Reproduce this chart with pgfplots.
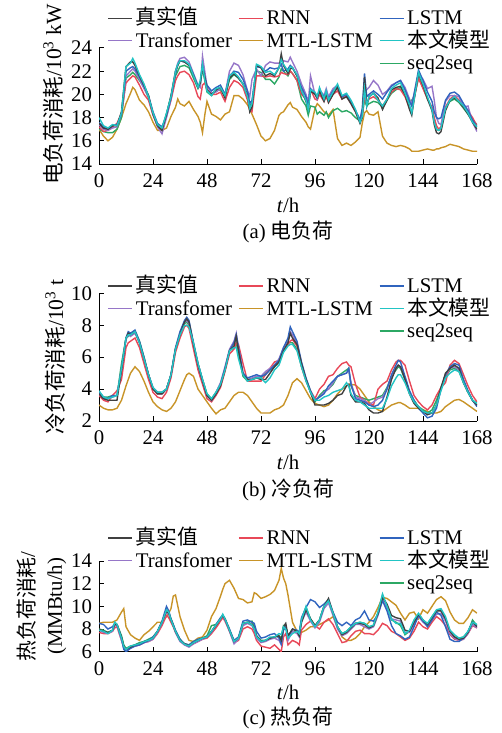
\documentclass[border=0pt]{standalone}
\usepackage{fontspec}
\setmainfont{Liberation Serif}
\newfontfamily\cjk{Noto Sans CJK SC}
\usepackage{pgfplots}
\usepackage{pgfplotstable}
\pgfplotsset{compat=1.18}

\definecolor{cT}{RGB}{64,64,64}
\definecolor{cR}{RGB}{232,72,88}
\definecolor{cL}{RGB}{48,100,190}
\definecolor{cP}{RGB}{150,118,200}
\definecolor{cM}{RGB}{200,148,40}
\definecolor{cO}{RGB}{34,196,196}
\definecolor{cG}{RGB}{44,168,100}

% columns: t  true  ours  LSTM  RNN  Transformer  seq2seq  MTL-LSTM
\pgfplotstableread{
t T O L R P G M
0 17.5 18.0 17.6 17.2 17.4 17.0 17.0
2 17.1 17.3 17.2 16.8 17.0 16.8 16.4
4 17.0 17.1 17.0 16.9 16.9 16.7 16.0
6 17.3 17.4 17.3 17.2 17.1 16.7 16.3
8 17.3 17.3 17.4 17.5 17.2 17.0 17.0
10 18.5 18.4 18.3 18.4 18.3 18.0 18.0
12 22.4 22.4 22.0 21.0 21.6 21.4 19.2
14 22.8 22.7 22.3 21.4 22.0 21.7 20.1
15 22.8 23.1 22.4 21.6 22.2 21.9 20.6
16 22.5 22.7 22.2 21.5 22.0 21.7 20.4
18 21.6 21.7 21.5 20.8 21.3 21.2 19.5
20 20.8 20.9 20.7 20.0 20.5 20.6 19.1
22 19.9 19.8 19.9 19.5 19.8 19.7 18.5
24 18.3 18.4 18.5 18.2 18.3 18.3 17.6
26 17.3 17.4 17.5 17.3 17.2 17.3 16.9
28 16.9 17.1 17.2 17.1 16.6 17.0 16.9
30 18.3 18.4 18.2 18.1 18.0 18.3 17.1
32 19.9 19.8 19.7 19.5 19.6 19.8 18.1
34 22.0 22.0 21.8 21.2 22.0 21.6 18.9
35 22.5 22.6 22.5 21.6 22.7 22.0 19.6
36 22.9 22.9 22.9 21.9 23.1 22.4 19.2
38 22.8 22.9 22.8 22.0 23.2 22.5 19.0
40 22.5 22.6 22.6 21.7 22.8 22.3 19.4
42 21.6 21.6 21.7 21.0 21.8 21.4 18.7
44 20.6 20.6 20.7 19.8 20.8 20.5 18.1
45 21.0 21.2 21.0 19.6 20.6 20.8 17.6
46 22.4 22.6 22.5 20.8 23.3 22.2 16.7
47 21.5 21.3 21.5 21.0 22.0 21.2 18.2
48 20.4 20.3 20.8 20.4 20.7 20.2 19.4
50 20.0 19.9 20.3 20.0 20.1 19.9 18.3
52 20.4 20.5 20.6 20.0 20.2 20.3 18.1
54 20.6 20.6 20.8 20.2 20.5 20.4 17.8
56 19.7 19.9 20.0 19.4 20.0 19.8 18.3
58 21.4 21.6 21.6 20.6 22.0 21.3 18.5
60 21.8 21.9 22.0 21.2 22.7 21.7 19.9
62 21.4 21.5 21.9 21.0 22.5 21.4 19.9
64 20.9 20.9 21.3 20.6 21.7 20.9 19.6
66 19.9 19.8 20.3 19.5 20.3 19.9 19.1
67 18.5 18.8 19.2 18.6 19.8 19.0 18.7
68 18.9 19.2 19.5 18.5 21.3 19.2 18.3
70 22.5 22.6 22.4 21.6 22.2 22.0 17.4
72 22.3 22.4 22.3 21.6 21.6 21.9 16.4
74 21.6 21.9 22.0 21.5 22.5 21.3 16.0
76 21.8 22.0 22.3 21.6 22.8 21.3 16.2
78 21.6 21.7 22.2 21.5 22.7 20.9 16.9
80 22.3 22.3 22.3 21.6 22.7 21.5 18.2
81 23.5 23.0 22.6 21.9 22.5 22.2 18.4
82 22.5 22.6 22.0 21.8 22.9 22.0 18.5
84 21.8 22.0 22.2 21.7 22.8 21.6 19.1
85 22.2 22.4 22.5 22.0 23.2 22.0 19.3
86 22.3 22.3 22.3 21.8 22.8 21.8 18.9
88 21.6 21.7 21.6 21.2 22.0 21.2 18.7
90 20.3 20.3 20.6 20.0 20.9 19.6 18.1
92 19.4 19.5 19.8 19.6 20.0 19.0 17.6
93 18.7 18.7 19.0 18.9 19.3 18.2 17.2
94 20.3 20.4 20.5 20.4 21.6 19.0 17.0
96 20.0 20.2 20.1 19.6 20.0 18.9 18.8
97 19.7 19.8 19.9 19.5 19.6 18.3 19.2
98 20.3 20.6 20.3 20.0 20.4 18.5 19.0
100 19.4 19.6 19.8 19.4 19.9 18.2 18.5
101 20.1 20.3 20.2 19.8 20.5 18.5 18.4
102 19.3 19.5 19.6 19.3 19.8 18.0 18.2
104 20.0 20.2 20.3 20.0 20.5 18.6 18.7
106 20.6 20.9 20.7 20.3 20.8 18.8 16.2
108 19.6 19.9 19.8 19.6 19.8 18.5 15.6
110 19.8 20.1 20.0 19.9 20.0 18.6 15.8
112 19.2 19.5 19.3 19.2 19.4 18.4 15.6
114 18.5 18.7 18.6 18.5 18.6 18.0 15.9
116 17.5 17.6 17.8 17.6 17.8 17.7 16.3
117 18.0 18.1 18.8 18.2 18.5 18.2 17.5
118 21.5 20.5 21.8 19.8 20.3 19.5 18.4
119 19.0 19.0 19.8 19.2 20.4 19.0 18.6
120 19.8 19.8 20.0 19.6 20.6 19.2 18.3
122 20.1 20.1 20.3 19.8 21.2 19.4 18.2
124 19.7 19.5 20.0 19.5 20.8 19.3 18.5
126 18.7 19.0 19.6 19.0 20.0 18.9 16.4
128 19.5 19.6 20.2 19.6 20.3 19.5 15.8
130 20.4 20.5 20.7 20.2 20.8 20.1 15.6
132 20.6 20.8 21.0 20.5 21.0 20.4 15.5
134 20.7 21.0 21.2 20.4 21.2 20.6 15.6
136 20.0 20.1 20.4 19.8 20.6 20.0 15.5
138 18.7 19.1 19.4 18.8 19.6 19.3 15.3
139 18.2 18.4 19.0 18.5 19.2 19.5 15.1
140 19.5 19.5 20.0 19.6 20.0 19.8 15.1
142 21.8 21.9 22.1 21.4 21.8 21.4 15.1
144 20.8 20.9 21.2 20.5 21.3 20.6 15.2
146 19.6 19.8 20.2 19.6 20.5 19.6 15.3
148 18.6 18.7 19.4 18.9 20.7 18.8 15.2
149 17.4 17.6 18.5 18.0 19.5 17.8 15.2
150 16.7 17.0 18.0 17.3 18.0 17.0 15.3
151 16.6 16.9 17.9 17.0 17.5 16.9 15.3
152 16.8 17.1 18.0 17.2 17.4 17.1 15.4
154 18.6 18.8 19.5 18.9 19.4 18.9 15.5
156 19.5 19.5 20.1 19.6 19.9 19.4 15.7
158 19.7 19.8 20.2 19.9 19.9 19.6 15.6
160 19.4 19.4 19.9 19.5 19.8 19.3 15.5
162 18.9 19.0 19.2 18.9 18.9 18.8 15.3
164 18.3 18.4 18.6 18.6 19.0 18.3 15.2
166 17.6 17.6 17.8 18.0 17.6 17.8 15.1
168 17.0 17.2 17.2 17.3 16.8 17.4 15.1
}\tabA

\pgfplotstableread{
t T O L R P G M
0 3.7 3.9 3.8 3.6 3.7 3.8 3.0
2 3.4 3.5 3.5 3.3 3.4 3.5 2.8
4 3.3 3.4 3.4 3.2 3.4 3.5 2.7
6 3.3 3.5 3.6 3.6 3.5 3.6 2.7
8 3.3 3.6 3.6 3.9 3.6 3.6 2.8
10 5.2 5.3 5.2 4.6 5.3 5.6 3.3
12 7.2 7.2 7.2 6.6 7.1 7.2 4.2
13 7.5 7.4 7.6 6.9 7.4 7.3 4.6
14 7.4 7.4 7.5 7.0 7.3 7.5 5.0
16 7.6 7.6 7.7 7.2 7.5 7.6 5.4
18 6.9 6.9 7.0 6.6 6.9 7.0 5.1
20 5.9 5.9 6.0 5.6 5.9 6.0 4.5
22 4.9 4.9 4.9 4.6 4.9 4.9 3.8
24 4.0 4.1 4.1 3.8 4.0 4.0 3.2
26 3.7 3.8 3.8 3.5 3.7 3.8 2.9
28 3.7 3.8 3.8 3.4 3.7 3.8 2.7
30 4.0 4.0 4.0 3.8 4.0 4.0 2.6
32 4.9 4.9 4.9 4.7 4.9 4.9 2.8
34 6.5 6.5 6.6 6.3 6.5 6.5 3.2
36 7.4 7.4 7.6 7.2 7.5 7.4 3.9
38 8.2 8.0 8.3 7.9 8.2 8.1 4.6
39 8.4 8.0 8.5 8.0 8.3 8.2 4.9
40 8.2 7.9 8.3 7.8 8.1 8.0 5.0
42 6.8 6.9 6.9 6.5 6.8 6.8 4.8
44 5.5 5.6 5.6 5.2 5.5 5.6 4.0
46 4.5 4.6 4.6 4.3 4.5 4.6 3.6
48 3.6 3.7 3.6 3.4 3.6 3.7 3.2
50 3.3 3.4 3.3 3.2 3.3 3.4 2.8
52 3.7 3.8 3.7 3.6 3.8 3.8 2.45
54 4.2 4.3 4.3 4.1 4.4 4.3 2.7
56 5.2 5.2 5.3 5.1 5.4 5.2 2.8
58 6.4 6.4 6.4 6.2 6.5 6.4 3.2
60 6.7 6.6 6.9 6.5 7.0 6.6 3.6
61 7.3 6.6 7.4 6.9 7.5 6.9 3.7
62 6.4 5.9 6.6 6.8 6.6 6.2 3.8
64 4.9 4.9 5.0 5.6 5.0 4.8 3.8
66 4.6 4.5 4.7 4.5 4.6 4.5 3.6
68 4.6 4.6 4.8 4.5 4.7 4.6 3.2
70 4.7 4.7 4.9 4.5 4.8 4.7 2.8
72 4.6 4.7 4.8 4.5 4.8 4.7 2.5
74 4.6 4.4 4.9 4.9 5.1 5.0 2.5
76 5.0 4.7 5.2 5.3 5.3 5.2 2.5
78 5.4 5.2 5.5 5.7 5.5 5.4 2.7
80 5.7 5.5 5.8 5.8 5.9 5.7 2.8
82 6.4 6.3 6.6 6.4 6.6 6.4 3.0
84 6.9 6.7 7.2 6.8 7.0 6.9 3.6
85 7.5 6.8 7.9 7.0 7.6 6.9 4.0
86 7.2 6.8 7.6 7.1 7.4 6.9 4.4
88 6.8 6.4 7.0 6.7 6.9 6.5 4.65
90 5.6 5.4 5.7 5.4 5.6 5.4 4.4
92 4.6 4.5 4.7 4.5 4.6 4.6 3.9
94 3.8 3.8 3.9 3.9 3.8 3.8 3.4
96 3.0 3.3 3.3 3.4 3.3 3.2 3.1
98 3.0 3.3 3.5 4.0 3.5 3.6 3.0
100 3.0 3.5 3.7 4.3 3.8 3.9 2.9
102 3.1 3.6 4.2 4.8 4.0 4.0 3.0
104 3.3 3.8 4.5 4.9 4.4 4.3 3.3
106 3.6 3.9 4.8 5.3 4.8 4.8 3.7
108 3.7 4.0 4.9 5.6 4.9 5.0 4.0
110 4.2 4.4 5.0 5.7 5.0 5.2 4.2
111 4.3 4.2 5.3 5.5 5.2 5.3 4.3
112 3.6 3.7 4.3 5.4 4.4 4.2 4.3
114 3.2 3.3 3.4 4.3 3.5 3.6 4.25
116 3.2 3.2 3.3 3.5 3.4 3.5 4.0
118 3.1 3.0 3.2 3.3 3.3 3.4 3.6
120 2.7 2.8 3.0 3.1 3.0 3.3 3.2
122 2.5 2.8 2.9 3.0 3.2 3.4 2.9
124 2.5 2.8 3.0 4.0 3.4 3.5 2.7
126 2.6 2.8 3.3 4.3 3.5 3.6 2.6
128 3.5 3.4 4.0 4.5 4.0 4.1 2.8
130 4.6 4.2 4.9 5.2 4.8 4.8 3.0
132 5.3 4.7 5.5 5.7 5.3 5.2 3.1
133 5.5 4.9 5.8 5.8 5.5 5.4 3.15
134 5.4 4.9 5.7 5.8 5.4 5.3 3.15
136 4.6 4.4 4.8 5.5 4.7 4.6 3.0
138 3.7 3.7 3.9 4.5 3.8 3.8 2.8
140 3.1 3.2 3.3 3.6 3.2 3.3 2.8
142 2.8 2.9 2.8 3.2 2.9 2.9 2.8
144 2.6 2.6 2.5 2.9 2.6 2.7 2.7
146 2.4 2.5 2.2 2.7 2.4 2.5 2.6
148 2.5 2.5 2.3 3.0 2.5 2.7 2.5
150 3.0 3.0 2.8 3.6 3.0 3.3 2.5
152 4.1 3.9 4.0 4.1 4.0 4.1 2.6
154 5.0 4.7 4.9 4.4 4.9 4.8 2.9
156 5.3 5.0 5.4 5.5 5.3 5.2 3.1
158 5.5 5.2 5.6 5.8 5.4 5.3 3.3
160 5.3 5.1 5.5 5.6 5.2 5.1 3.35
162 4.4 4.4 4.6 4.9 4.4 4.4 3.2
164 3.8 3.8 3.9 4.2 3.8 3.8 3.0
166 3.3 3.3 3.3 3.6 3.3 3.3 2.8
168 3.0 3.1 2.9 3.2 3.0 3.1 2.6
}\tabB

\pgfplotstableread{
t T O L R P G M
0 8.0 7.9 8.5 7.7 7.9 8.0 8.5
2 7.8 7.8 8.4 7.6 7.7 7.9 8.6
4 7.7 7.6 8.0 7.6 7.6 7.7 8.6
6 7.9 7.9 8.2 7.8 7.8 7.9 8.6
7 8.4 8.6 8.5 8.1 8.3 8.4 8.7
8 8.4 8.4 8.4 8.2 8.3 8.4 8.8
10 7.3 7.2 7.2 7.0 7.0 7.4 9.5
11 6.5 6.45 6.2 6.4 6.3 6.6 9.8
12 6.2 6.2 6.0 6.2 6.1 6.3 8.2
14 6.4 6.5 6.3 6.4 6.3 6.5 7.5
16 6.6 6.6 6.5 6.5 6.5 6.6 7.2
18 6.7 6.7 6.6 6.6 6.6 6.8 7.0
20 6.9 6.9 6.8 6.8 6.8 6.9 7.5
22 7.0 7.0 7.0 6.9 6.9 7.1 7.8
24 7.2 7.2 7.3 7.1 7.1 7.3 8.2
26 7.8 7.8 7.8 7.6 7.7 7.8 8.6
28 8.6 8.6 8.7 8.3 8.5 8.6 8.6
30 9.6 9.7 10.0 9.2 9.5 9.6 9.1
31 9.4 9.5 9.6 9.0 9.3 9.4 9.4
32 8.8 8.8 8.9 8.6 8.8 8.9 9.8
33 8.3 8.3 8.4 8.2 8.3 8.4 10.9
34 7.8 7.8 7.9 7.7 7.7 7.8 11.0
36 7.0 7.0 7.1 7.0 6.9 7.1 9.1
38 6.7 6.65 6.7 6.6 6.6 6.7 7.9
40 6.5 6.5 6.6 6.5 6.4 6.6 7.0
42 6.8 6.8 6.9 6.7 6.7 6.9 6.9
44 7.0 7.0 7.1 6.9 6.9 7.0 7.2
46 7.2 7.2 7.2 7.1 7.1 7.2 7.3
48 7.3 7.3 7.3 7.2 7.3 7.4 7.9
50 7.8 7.8 7.8 7.6 7.7 8.3 9.1
52 8.3 8.35 8.4 8.1 8.3 8.4 9.8
54 8.9 8.9 9.0 8.7 8.9 8.9 10.9
55 9.2 9.3 9.2 9.0 9.2 9.2 11.5
56 8.9 8.9 8.9 8.7 8.8 8.9 12.0
58 7.9 7.9 8.0 7.8 7.8 7.9 12.3
60 6.9 6.9 7.0 6.8 6.7 6.9 11.6
62 7.2 7.2 7.3 7.0 7.1 7.2 10.7
64 8.5 8.5 8.7 8.0 8.3 8.5 10.6
66 8.6 8.6 8.8 8.2 8.5 8.6 10.3
68 8.4 8.35 8.6 8.0 8.3 8.7 10.4
69 8.0 8.0 8.5 7.6 7.9 8.2 11.2
70 7.4 7.3 7.8 7.0 7.2 7.4 11.1
72 6.9 6.9 7.2 6.5 6.8 7.0 10.7
74 7.0 7.0 7.3 6.4 6.9 7.0 10.85
76 7.2 7.3 7.5 6.3 7.1 7.2 11.05
78 7.3 7.3 7.6 6.6 7.2 7.3 11.4
80 7.4 7.6 7.2 6.2 7.0 7.4 12.3
81 7.0 7.5 6.7 6.0 6.6 7.2 13.35
82 8.2 8.2 7.9 7.3 8.0 8.3 12.5
83 8.5 8.0 8.2 7.6 8.3 8.2 12.0
84 7.4 7.2 7.3 6.6 7.0 7.4 11.0
86 8.0 7.6 8.0 7.0 7.8 7.8 8.6
88 7.8 7.8 7.9 6.8 7.6 7.8 7.8
89 7.4 7.6 7.7 6.6 7.3 7.6 7.6
90 8.6 8.8 9.0 7.9 8.6 8.8 7.7
92 9.7 10.0 9.9 8.4 9.5 9.9 7.9
94 8.9 8.8 10.6 8.7 8.7 8.9 8.2
96 8.3 8.2 10.4 8.3 8.1 8.3 8.2
98 8.8 8.8 9.9 8.0 8.6 8.8 8.4
100 10.0 10.0 10.2 8.6 9.8 10.0 8.6
102 10.7 10.5 10.6 8.9 10.3 10.5 8.8
104 9.4 9.4 9.5 8.4 9.2 9.4 9.1
106 8.2 8.2 8.6 7.6 8.0 8.2 8.2
108 7.5 7.6 8.3 6.8 7.4 7.6 7.3
110 7.7 7.8 8.6 6.9 7.6 7.8 7.0
112 8.1 8.2 8.3 7.4 8.0 8.2 7.0
114 8.5 8.5 8.8 7.8 8.4 8.5 7.2
116 8.5 8.6 9.0 7.9 8.4 8.6 7.6
118 8.4 8.5 9.6 7.6 8.2 8.5 8.2
120 8.1 8.2 8.8 7.6 8.0 8.2 8.6
122 8.3 8.35 8.7 7.5 8.2 8.3 9.1
124 9.4 9.5 9.3 7.9 9.2 9.4 9.9
126 10.8 11.1 10.5 8.5 10.6 11.0 10.8
128 10.2 10.0 9.6 8.3 9.8 10.0 10.7
130 9.2 8.9 8.3 7.8 8.9 8.8 10.4
132 9.0 8.5 7.6 7.6 8.8 8.6 10.1
134 8.9 8.5 7.4 7.3 8.7 8.3 9.4
136 7.9 7.6 7.1 7.0 7.7 7.5 8.8
138 7.8 7.9 7.3 7.2 7.7 7.8 9.4
140 8.6 8.8 8.2 7.8 8.4 8.7 9.5
142 9.3 9.4 9.2 8.6 9.1 9.3 8.9
144 8.8 8.8 8.7 8.2 8.6 8.7 9.7
146 8.4 8.5 8.2 8.0 8.3 8.4 9.4
148 9.0 9.1 8.8 8.6 8.8 9.1 10.0
150 9.6 9.7 9.5 9.1 9.3 9.6 10.6
152 9.6 9.8 9.2 8.8 9.4 9.7 10.85
154 8.9 9.1 8.2 8.3 8.7 8.9 10.5
156 7.8 7.9 7.1 7.5 7.6 7.8 9.5
158 7.3 7.5 6.9 7.1 7.2 7.3 8.8
160 7.1 7.2 6.9 7.0 7.0 7.2 8.5
162 7.2 7.3 7.2 7.1 7.1 7.3 8.5
164 7.7 7.8 7.8 7.6 7.6 7.7 9.0
166 8.6 8.6 8.6 8.3 8.4 8.8 9.7
168 8.2 8.4 8.3 8.1 8.1 8.3 9.4
}\tabC

\pgfplotsset{
  panel/.style={
    scale only axis, width=189pt,
    xmin=0, xmax=168, xtick={0,24,...,168},
    axis lines=left, axis line style={-, line width=0.5pt},
    tick align=inside, major tick length=2.5pt,
    tick style={line width=0.5pt, black},
    /pgf/number format/assume math mode=true,
    xticklabel style={yshift=-1.5pt},
    clip mode=individual,
    xlabel={\textit{t}/h},
    xlabel style={at={(axis description cs:0.5,0)}, yshift=-20.5pt, anchor=center},
    legend columns=3,
    legend cell align=left,
    legend style={draw=none, fill=none, inner sep=0pt, anchor=north west, row sep=1.25pt,
      nodes={inner sep=0pt, text height=7.6pt, text depth=2.4pt},
      /tikz/every odd column/.append style={column sep=1.5pt},
      /tikz/every even column/.append style={column sep=3pt}},
    legend image code/.code={\draw[#1, line width=0.7pt] (0pt,0.6pt) -- (12pt,0.6pt);},
  }
}

\newcommand{\plotall}[1]{%
  \addplot[cM, line width=0.7pt, forget plot] table[x=t,y=M]{#1};
  \addplot[cG, line width=0.7pt, forget plot] table[x=t,y=G]{#1};
  \addplot[cR, line width=0.7pt, forget plot] table[x=t,y=R]{#1};
  \addplot[cP, line width=0.7pt, forget plot] table[x=t,y=P]{#1};
  \addplot[cL, line width=0.7pt, forget plot] table[x=t,y=L]{#1};
  \addplot[cT, line width=0.7pt, forget plot] table[x=t,y=T]{#1};
  \addplot[cO, line width=0.7pt, forget plot] table[x=t,y=O]{#1};
}
\newcommand{\mylegend}{%
  \addlegendimage{cT}\addlegendentry{\cjk 真实值}
  \addlegendimage{cR}\addlegendentry{RNN}
  \addlegendimage{cL}\addlegendentry{LSTM}
  \addlegendimage{cP}\addlegendentry{Transfomer}
  \addlegendimage{cM}\addlegendentry{MTL-LSTM}
  \addlegendimage{cO}\addlegendentry{\cjk 本文模型}
  \addlegendimage{empty legend}\addlegendentry{\mbox{}}
  \addlegendimage{empty legend}\addlegendentry{\mbox{}}
  \addlegendimage{cG}\addlegendentry{seq2seq}
}

\begin{document}
\begin{tikzpicture}[font=\fontsize{10.4}{12}\selectfont]
\useasboundingbox (0,0) rectangle (251pt,-366.5pt);

\begin{axis}[panel, at={(49.5pt,-82pt)}, anchor=south west, height=58pt,
  ymin=14, ymax=24, ytick={14,16,...,24},
  ylabel={{\cjk 电负荷消耗}/10\textsuperscript{3} kW},
  ylabel style={at={(axis description cs:-0.1217,0.6)}, anchor=center,
    font=\fontsize{10.8}{12}\selectfont},
  legend style={at={(axis description cs:0.0212,1.336)}}]
\plotall{\tabA}
\mylegend
\node[anchor=center, yshift=-34pt] at (axis description cs:0.5,0) {(a) {\cjk 电负荷}};
\end{axis}

\begin{axis}[panel, at={(49.5pt,-210.5pt)}, anchor=south west, height=63.85pt,
  ymin=2, ymax=10, ytick={2,4,...,10},
  ylabel={{\cjk 冷负荷消耗}/10\textsuperscript{3} t},
  ylabel style={at={(axis description cs:-0.1164,0.5)}, anchor=center,
    font=\fontsize{10.8}{12}\selectfont},
  legend style={at={(axis description cs:0.0212,1.128)}}]
\plotall{\tabB}
\mylegend
\node[anchor=center, yshift=-34.5pt] at (axis description cs:0.5,0) {(b) {\cjk 冷负荷}};
\end{axis}

\begin{axis}[panel, at={(49.5pt,-325.85pt)}, anchor=south west, height=45.35pt,
  ymin=6, ymax=14, ytick={6,8,...,14},
  ylabel={{\cjk 热负荷消耗}/\\(MMBtu/h)},
  ylabel style={at={(axis description cs:-0.151,0.5)}, anchor=center, align=center,
    font=\fontsize{10.4}{13.5}\selectfont},
  legend style={at={(axis description cs:0.0212,1.353)}}]
\plotall{\tabC}
\mylegend
\node[anchor=center, yshift=-33pt] at (axis description cs:0.5,0) {(c) {\cjk 热负荷}};
\end{axis}
\end{tikzpicture}
\end{document}
